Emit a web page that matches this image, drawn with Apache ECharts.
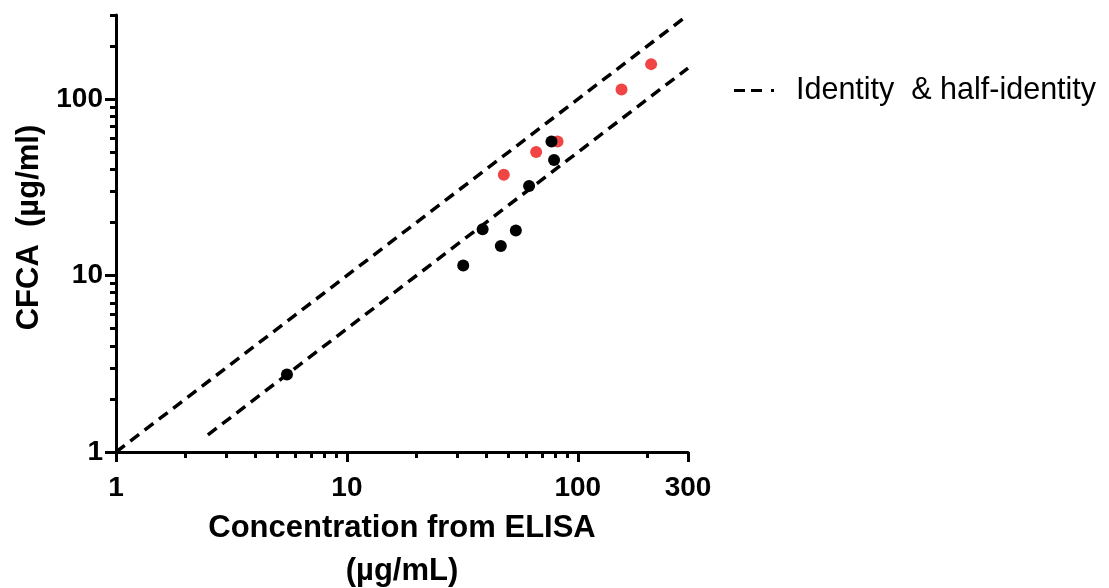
<!DOCTYPE html>
<html>
<head>
<meta charset="utf-8">
<script src="https://cdn.jsdelivr.net/npm/echarts@6/dist/echarts.min.js"></script>
<style>
  html, body { margin: 0; padding: 0; background: #fff; }
  #chart { width: 1109px; height: 588px; }
</style>
</head>
<body>
<div id="chart"></div>
<script>
// ELISA concentration vs CFCA, both in µg/mL, log-log
const blackX = [5.5, 31.9, 38.7, 46.4, 53.9, 61.5, 76.9, 78.9];
const blackY = [2.75, 11.4, 18.3, 14.7, 18.0, 32.2, 57.5, 45.2];
const redX = [47.8, 66.0, 81.7, 154.6, 207.7];
const redY = [37.3, 50.2, 57.5, 113.5, 158];

// reference lines: y = x and y = x / 2
const identityLine = [[1, 1], [300, 300]];
const halfIdentityLine = [[2.5, 1.25], [300, 150]];

const xMajorTicks = [1, 10, 100, 300];
const xMinorTicks = [2, 3, 4, 5, 6, 7, 8, 9, 20, 30, 40, 50, 60, 70, 80, 90, 200];
const yMajorTicks = [1, 10, 100];
const yMinorTicks = [2, 3, 4, 5, 6, 7, 8, 9, 20, 30, 40, 50, 60, 70, 80, 90, 200, 300];

const lineName = 'Identity  & half-identity';
const FONT = '"Liberation Sans", Arial, sans-serif';
// legend key: two dashes and a dot
const dashIcon = 'path://M0,0h11v3h-11z M17,0h11v3h-11z M37,0h3v3h-3z';

const zip = (xs, ys) => xs.map((x, i) => [x, ys[i]]);

const chart = echarts.init(document.getElementById('chart'), null, { renderer: 'canvas' });

const axisLine = { show: true, onZero: false, lineStyle: { color: '#000', width: 3 } };
const refLineStyle = { color: '#000', width: 3.5, type: [11, 7] };

chart.setOption({
  animation: false,
  grid: { left: 116, right: 421, top: 15, bottom: 136, containLabel: false, outerBoundsMode: 'none' },
  legend: {
    data: [{ name: lineName, icon: dashIcon }],
    left: 729, top: 70,
    itemWidth: 40, itemHeight: 3,
    textStyle: { fontFamily: FONT, fontSize: 30.5, color: '#000', padding: [0, 0, 0, 17] }
  },
  xAxis: [
    {
      type: 'log', logBase: 10, min: 1, max: 300,
      axisLine: axisLine,
      axisTick: { show: true, length: 10, lineStyle: { width: 3, color: '#000' }, customValues: xMajorTicks },
      axisLabel: {
        customValues: xMajorTicks, margin: 22,
        fontFamily: FONT, fontSize: 28, fontWeight: 'bold', color: '#000'
      },
      splitLine: { show: false },
      name: 'Concentration from ELISA\n(µg/mL)',
      nameLocation: 'middle', nameGap: 52,
      nameTextStyle: { fontFamily: FONT, fontSize: 31, fontWeight: 'bold', color: '#000', lineHeight: 43 }
    },
    {
      type: 'log', logBase: 10, min: 1, max: 300, position: 'bottom',
      axisLine: { show: false },
      axisTick: { show: true, length: 6, lineStyle: { width: 3, color: '#000' }, customValues: xMinorTicks },
      axisLabel: { show: false },
      splitLine: { show: false }
    }
  ],
  yAxis: [
    {
      type: 'log', logBase: 10, min: 1, max: 300,
      axisLine: axisLine,
      axisTick: { show: true, length: 11, lineStyle: { width: 3, color: '#000' }, customValues: yMajorTicks },
      axisLabel: {
        customValues: yMajorTicks, margin: 13,
        fontFamily: FONT, fontSize: 28, fontWeight: 'bold', color: '#000'
      },
      splitLine: { show: false },
      name: 'CFCA  (µg/ml)',
      nameLocation: 'middle', nameGap: 70, nameRotate: 90,
      nameTextStyle: { fontFamily: FONT, fontSize: 31, fontWeight: 'bold', color: '#000', padding: [0, 0, 0, 12] }
    },
    {
      type: 'log', logBase: 10, min: 1, max: 300, position: 'left',
      axisLine: { show: false },
      axisTick: { show: true, length: 6, lineStyle: { width: 3, color: '#000' }, customValues: yMinorTicks },
      axisLabel: { show: false },
      splitLine: { show: false }
    }
  ],
  series: [
    {
      name: lineName, type: 'line', data: identityLine,
      symbol: 'none', silent: true,
      itemStyle: { color: '#000' },
      lineStyle: refLineStyle
    },
    {
      name: lineName, type: 'line', data: halfIdentityLine,
      symbol: 'none', silent: true,
      itemStyle: { color: '#000' },
      lineStyle: refLineStyle
    },
    {
      name: 'red', type: 'scatter', data: zip(redX, redY),
      symbol: 'circle', symbolSize: 12,
      itemStyle: { color: '#f04545', opacity: 1 }
    },
    {
      name: 'black', type: 'scatter', data: zip(blackX, blackY),
      symbol: 'circle', symbolSize: 12,
      itemStyle: { color: '#000', opacity: 1 }
    }
  ]
});
</script>
</body>
</html>
